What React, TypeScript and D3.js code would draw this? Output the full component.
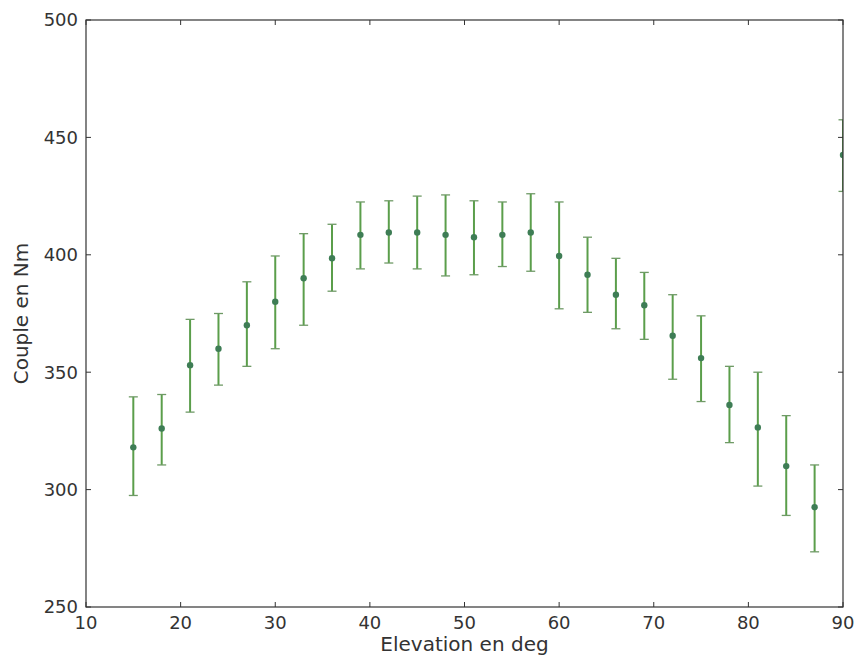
import React from 'react';
import * as d3 from 'd3';

// elevation angles (deg) and measured torque (Nm) with error bounds
const elevations = [15, 18, 21, 24, 27, 30, 33, 36, 39, 42, 45, 48, 51, 54, 57, 60, 63, 66, 69, 72, 75, 78, 81, 84, 87, 90];
const torqueMean = [318, 326, 353, 360, 370, 380, 390, 398.5, 408.5, 409.5, 409.5, 408.5, 407.5, 408.5, 409.5, 399.5, 391.5, 383, 378.5, 365.5, 356, 336, 326.5, 310, 292.5, 442.5];
const torqueHigh = [339.5, 340.5, 372.5, 375, 388.5, 399.5, 409, 413, 422.5, 423, 425, 425.5, 423, 422.5, 426, 422.5, 407.5, 398.5, 392.5, 383, 374, 352.5, 350, 331.5, 310.5, 457.5];
const torqueLow = [297.5, 310.5, 333, 344.5, 352.5, 360, 370, 384.5, 394, 396.5, 394, 391, 391.5, 395, 393, 377, 375.5, 368.5, 364, 347, 337.5, 320, 301.5, 289, 273.5, 427];

const xTicks = [10, 20, 30, 40, 50, 60, 70, 80, 90];
const yTicks = [250, 300, 350, 400, 450, 500];

const W = 856;
const H = 655;
const margin = { top: 20, right: 13, bottom: 48, left: 86 };

const font = "'DejaVu Sans', sans-serif";
const axisColor = '#333';
const barColor = '#5b9e4b';
const capColor = '#6f9a66';
const dotColor = '#3e7d55';

export default function App() {
  const x = d3.scaleLinear().domain([10, 90]).range([margin.left, W - margin.right]);
  const y = d3.scaleLinear().domain([250, 500]).range([H - margin.bottom, margin.top]);
  const [x0, x1] = x.range();
  const [y0, y1] = y.range();
  const tick = 5;

  return (
    <svg width={W} height={H} style={{ position: 'fixed', left: 0, top: 0, background: '#fff' }}>
      <defs>
        <clipPath id="plot-clip">
          <rect x={x0} y={y1} width={x1 - x0} height={y0 - y1} />
        </clipPath>
      </defs>

      {/* error bars + points */}
      <g clipPath="url(#plot-clip)">
        {elevations.map((e, i) => {
          const cx = x(e);
          return (
            <g key={e}>
              <line x1={cx} x2={cx} y1={y(torqueLow[i])} y2={y(torqueHigh[i])} stroke={barColor} strokeWidth={2} />
              <line x1={cx - 4.5} x2={cx + 4.5} y1={y(torqueHigh[i])} y2={y(torqueHigh[i])} stroke={capColor} strokeWidth={1.3} />
              <line x1={cx - 4.5} x2={cx + 4.5} y1={y(torqueLow[i])} y2={y(torqueLow[i])} stroke={capColor} strokeWidth={1.3} />
              <circle cx={cx} cy={y(torqueMean[i])} r={3.2} fill={dotColor} />
            </g>
          );
        })}
      </g>

      {/* frame */}
      <rect x={x0} y={y1} width={x1 - x0} height={y0 - y1} fill="none" stroke={axisColor} strokeWidth={1.2} />

      {/* x ticks */}
      {xTicks.map(t => (
        <g key={t}>
          <line x1={x(t)} x2={x(t)} y1={y0} y2={y0 - tick} stroke={axisColor} />
          <line x1={x(t)} x2={x(t)} y1={y1} y2={y1 + tick} stroke={axisColor} />
          <text x={x(t)} y={y0 + 22} textAnchor="middle" fontFamily={font} fontSize={18} fill="#333">{t}</text>
        </g>
      ))}

      {/* y ticks */}
      {yTicks.map(t => (
        <g key={t}>
          <line x1={x0} x2={x0 + tick} y1={y(t)} y2={y(t)} stroke={axisColor} />
          <line x1={x1} x2={x1 - tick} y1={y(t)} y2={y(t)} stroke={axisColor} />
          <text x={x0 - 8} y={y(t)} dy="0.36em" textAnchor="end" fontFamily={font} fontSize={18} fill="#333">{t}</text>
        </g>
      ))}

      {/* axis labels */}
      <text x={(x0 + x1) / 2} y={651} textAnchor="middle" fontFamily={font} fontSize={20} fill="#333">Elevation en deg</text>
      <text transform={`translate(28,${(y0 + y1) / 2}) rotate(-90)`} textAnchor="middle" fontFamily={font} fontSize={20} fill="#333">Couple en Nm</text>
    </svg>
  );
}
